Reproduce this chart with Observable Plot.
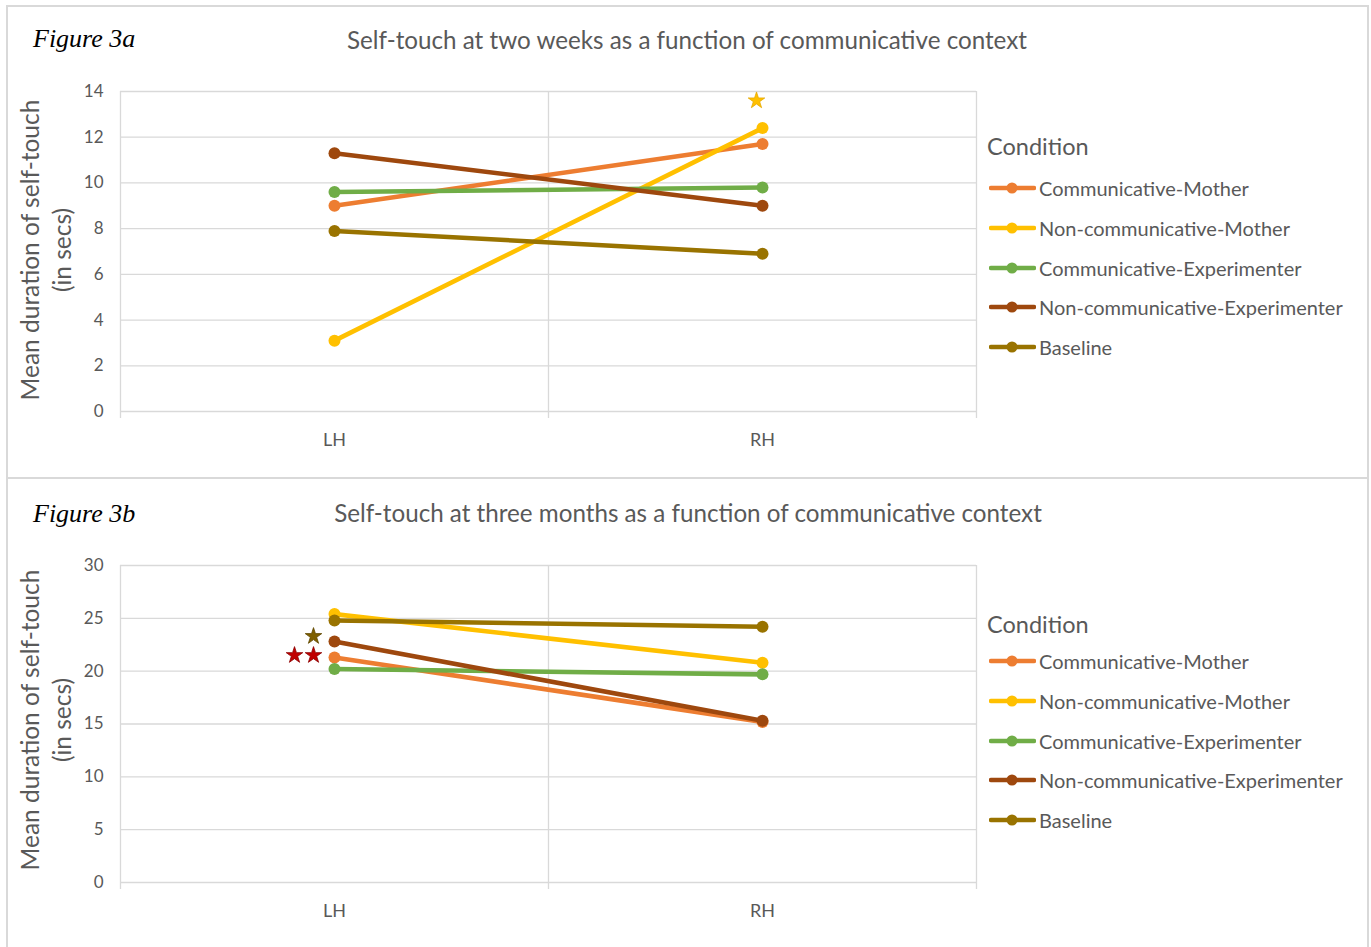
<!DOCTYPE html>
<html><head><meta charset="utf-8">
<script src="https://cdn.jsdelivr.net/npm/d3@7"></script>
<script src="https://cdn.jsdelivr.net/npm/@observablehq/plot@0.6"></script>
<style>
body{margin:0;background:#fff;}
#page{position:relative;width:1371px;height:947px;overflow:hidden;background:#fff;font-family:Lato,sans-serif;color:#595959;}
.panel{position:absolute;border:2px solid #d9d9d9;box-sizing:border-box;}
.fig{position:absolute;font-family:"Liberation Serif",serif;font-style:italic;font-size:26px;color:#000;line-height:30px;white-space:nowrap;}
.title{position:absolute;font-size:24.2px;line-height:28px;white-space:nowrap;transform:translateX(-50%);}
.ytitle{position:absolute;width:420px;text-align:center;font-size:24.5px;line-height:32px;transform:translate(-50%,-50%) rotate(-90deg);white-space:nowrap;}
.legtitle{position:absolute;font-size:23.5px;line-height:28px;white-space:nowrap;}
.legitem{position:absolute;height:24px;display:flex;align-items:center;font-size:20px;white-space:nowrap;}
.legitem svg{display:block;margin-right:3px;}
</style>
</head><body><div id="page"></div>
<script>
// ---- data ----
const conditions = ["Communicative-Mother","Non-communicative-Mother","Communicative-Experimenter","Non-communicative-Experimenter","Baseline"];
const palette = ["#ED7D31","#FFC000","#70AD47","#9E480E","#997300"];
const sides = ["LH","RH"];
// Figure 3a: two weeks
const weeksLH = [9.0, 3.1, 9.6, 11.3, 7.9];
const weeksRH = [11.7, 12.4, 9.8, 9.0, 6.9];
const weeksTicks = [0,2,4,6,8,10,12,14];
const weeksStars = [{side:"RH", v:13.6, dx:-6, fill:"#FFC000", stroke:"#E6A800"}];
// Figure 3b: three months
const monthsLH = [21.3, 25.4, 20.2, 22.8, 24.8];
const monthsRH = [15.2, 20.8, 19.7, 15.3, 24.2];
const monthsTicks = [0,5,10,15,20,25,30];
const monthsStars = [
  {side:"LH", v:21.5, dx:-40, fill:"#C00000", stroke:"#8B0000"},
  {side:"LH", v:21.5, dx:-21, fill:"#C00000", stroke:"#8B0000"},
  {side:"LH", v:23.3, dx:-21, fill:"#7F6000", stroke:"#5F4800"}
];
const yTitle = ["Mean duration of self-touch","(in secs)"];

const page = document.getElementById("page");
const pos = s => sides.indexOf(s) + 0.5;

function chart(lh, rh, ticks, stars, marginTop, height, plotH) {
  const marks = [
    Plot.ruleY(ticks, {stroke:"#d9d9d9", strokeWidth:1.3}),
    Plot.ruleX([0,1,2], {stroke:"#d9d9d9", strokeWidth:1.3, insetBottom:-7}),
    Plot.axisY({ticks, tickSize:0, tickPadding:17, fontSize:17, label:null}),
    Plot.axisX({ticks: sides.map(pos), tickFormat: d => sides[Math.floor(d)], tickSize:0, tickPadding:22, fontSize:18, label:null})
  ];
  conditions.forEach((c,i) => {
    const pts = [{x:pos("LH"), y:lh[i]}, {x:pos("RH"), y:rh[i]}];
    marks.push(Plot.line(pts, {x:"x", y:"y", stroke:palette[i], strokeWidth:4.6, strokeLinecap:"round"}));
    marks.push(Plot.dot(pts, {x:"x", y:"y", r:6, fill:palette[i], stroke:"none"}));
  });
  stars.forEach(s => {
    marks.push(Plot.dot([s], {x: d => pos(d.side), y:"v", symbol:"star", r:5.2, fill:s.fill, stroke:s.stroke, strokeWidth:0.8, dx:s.dx}));
  });
  return Plot.plot({
    width:1371, height, marginTop, marginBottom: height - marginTop - plotH,
    marginLeft:120, marginRight:395,
    x:{type:"linear", domain:[0,2]},
    y:{domain:[ticks[0], ticks[ticks.length-1]]},
    style:{background:"transparent", color:"#595959", fontFamily:"Lato, sans-serif", overflow:"visible"},
    marks
  });
}

function el(cls, text, style) {
  const d = document.createElement("div");
  d.className = cls;
  if (text != null) d.innerHTML = text;
  Object.assign(d.style, style);
  page.appendChild(d);
  return d;
}

function legend(top, itemTops) {
  el("legtitle", "Condition", {left:"987px", top:(top-14)+"px"});
  conditions.forEach((c,i) => {
    const d = el("legitem", null, {left:"989px", top:(itemTops[i]-12)+"px"});
    const ns = "http://www.w3.org/2000/svg";
    const svg = document.createElementNS(ns, "svg");
    svg.setAttribute("width", 47); svg.setAttribute("height", 14);
    const ln = document.createElementNS(ns, "line");
    ln.setAttribute("x1", 2); ln.setAttribute("x2", 45); ln.setAttribute("y1", 7); ln.setAttribute("y2", 7);
    ln.setAttribute("stroke", palette[i]); ln.setAttribute("stroke-width", 4.6); ln.setAttribute("stroke-linecap", "round");
    const ci = document.createElementNS(ns, "circle");
    ci.setAttribute("cx", 23); ci.setAttribute("cy", 7); ci.setAttribute("r", 5.5); ci.setAttribute("fill", palette[i]);
    svg.appendChild(ln); svg.appendChild(ci);
    d.appendChild(svg);
    const sp = document.createElement("span"); sp.textContent = c; d.appendChild(sp);
  });
}

// panels
el("panel", null, {left:"6px", top:"5px", width:"1363px", height:"474px"});
el("panel", null, {left:"6px", top:"477px", width:"1363px", height:"476px"});

// charts
const c1 = chart(weeksLH, weeksRH, weeksTicks, weeksStars, 91, 476, 320);
c1.style.position="absolute"; c1.style.top="0px"; c1.style.left="0px";
page.appendChild(c1);
const c2 = chart(monthsLH, monthsRH, monthsTicks, monthsStars, 87, 469, 317);
c2.style.position="absolute"; c2.style.top="478px"; c2.style.left="0px";
page.appendChild(c2);

// texts
el("fig", "Figure 3a", {left:"33px", top:"24px"});
el("fig", "Figure 3b", {left:"33px", top:"499px"});
el("title", "Self-touch at two weeks as a function of communicative context", {left:"687px", top:"26px"});
el("title", "Self-touch at three months as a function of communicative context", {left:"688px", top:"499px"});
el("ytitle", yTitle.join("<br>"), {left:"46px", top:"250px"});
el("ytitle", yTitle.join("<br>"), {left:"46px", top:"720px"});
legend(146, [188,228,268,307,347]);
legend(624, [661,701,741,780,820]);
</script>
</body></html>
